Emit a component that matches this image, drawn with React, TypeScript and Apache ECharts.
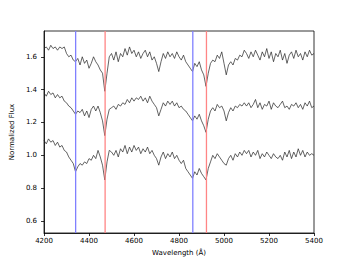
import React, { useEffect, useRef } from "react";
import * as echarts from "echarts";

const WAVE_START = 4200;
const WAVE_STEP = 10;

const FLUX_TOP = [
  1.65, 1.66, 1.64, 1.67, 1.65, 1.66, 1.64, 1.66, 1.65, 1.66,
  1.62, 1.60, 1.61, 1.58, 1.57, 1.59, 1.55, 1.60, 1.56, 1.58,
  1.53, 1.56, 1.60, 1.57, 1.55, 1.52, 1.50, 1.39, 1.50, 1.60,
  1.62, 1.58, 1.63, 1.57, 1.62, 1.60, 1.65, 1.61, 1.66, 1.62,
  1.64, 1.60, 1.63, 1.59, 1.62, 1.64, 1.60, 1.63, 1.58, 1.60,
  1.56, 1.51, 1.57, 1.62, 1.59, 1.63, 1.60, 1.62, 1.59, 1.63,
  1.60, 1.58, 1.61, 1.57, 1.55, 1.53, 1.51, 1.56, 1.54, 1.57,
  1.52, 1.49, 1.42, 1.50, 1.56, 1.58, 1.57, 1.61, 1.59, 1.63,
  1.56, 1.49, 1.55, 1.57, 1.55, 1.59, 1.58, 1.61, 1.60, 1.64,
  1.62, 1.59, 1.63, 1.60, 1.64, 1.61, 1.58, 1.63, 1.60, 1.65,
  1.59, 1.63, 1.57, 1.62, 1.60, 1.64, 1.58, 1.62, 1.56, 1.61,
  1.63, 1.59, 1.64, 1.60, 1.62, 1.58, 1.63, 1.60, 1.64, 1.61,
  1.62,
];

const FLUX_MID = [
  1.38, 1.36, 1.39, 1.37, 1.38, 1.35, 1.37, 1.35, 1.36, 1.33,
  1.32, 1.30, 1.29, 1.27, 1.25, 1.27, 1.26, 1.28, 1.24, 1.27,
  1.23, 1.28, 1.30, 1.27, 1.30, 1.26, 1.21, 1.12, 1.22, 1.28,
  1.29, 1.30, 1.28, 1.31, 1.30, 1.32, 1.31, 1.34, 1.32, 1.35,
  1.33, 1.35, 1.34, 1.36, 1.33, 1.35, 1.32, 1.36, 1.33, 1.31,
  1.29, 1.24, 1.28, 1.32, 1.30, 1.33, 1.31, 1.33, 1.30, 1.32,
  1.29, 1.30, 1.28, 1.27, 1.25, 1.23, 1.21, 1.24, 1.22, 1.25,
  1.21, 1.18, 1.14, 1.22, 1.27, 1.29, 1.27, 1.31, 1.29, 1.30,
  1.27, 1.21, 1.26, 1.29, 1.27, 1.30, 1.29, 1.31, 1.30, 1.32,
  1.30, 1.32, 1.29, 1.31, 1.34, 1.29, 1.32, 1.28, 1.31, 1.30,
  1.33, 1.28, 1.32, 1.30, 1.29, 1.31, 1.33, 1.29, 1.30, 1.28,
  1.31, 1.30, 1.32, 1.29, 1.31, 1.28, 1.32, 1.30, 1.33, 1.29,
  1.30,
];

const FLUX_BOT = [
  1.09, 1.07, 1.10, 1.08, 1.09, 1.06, 1.08, 1.05, 1.06, 1.03,
  1.02, 0.99, 0.97, 0.95, 0.90, 0.93, 0.95, 0.94, 0.96, 0.95,
  0.98, 0.97, 1.00, 0.98, 1.03, 0.99, 0.94, 0.85, 0.96, 1.03,
  1.02, 1.00, 1.03, 0.99, 1.04, 1.02, 1.06, 1.01, 1.05, 1.02,
  1.06, 1.03, 1.05, 1.01, 1.04, 1.02, 1.05, 1.01, 1.03, 1.00,
  0.98, 0.94, 0.99, 1.02, 0.98, 1.01, 0.99, 1.02, 0.98, 1.00,
  0.97, 0.95, 0.97, 0.92, 0.90, 0.88, 0.86, 0.90, 0.88, 0.92,
  0.89, 0.87, 0.85, 0.92, 0.96, 1.00, 0.98, 1.01, 0.99, 0.97,
  0.95, 0.94, 0.98, 1.00, 0.97, 1.01, 0.99, 1.02, 1.00, 1.03,
  1.01, 1.03, 0.99, 1.02, 1.00, 1.03, 0.98, 1.01, 0.99, 1.02,
  1.00, 0.98, 1.01, 0.99, 0.98, 1.00, 0.97, 1.02, 0.99, 1.03,
  0.98, 1.02, 0.99, 1.04, 1.00, 1.03, 0.99, 1.02, 1.00, 1.01,
  1.00,
];

const SPECTRA = [FLUX_TOP, FLUX_MID, FLUX_BOT];

const LINE_WAVES = [4340.5, 4471.5, 4861.3, 4922.0];
const LINE_COLORS = ["#8080ff", "#ff8585", "#8080ff", "#ff8585"];

const X_MIN = 4200;
const X_MAX = 5400;
const Y_MIN = 0.527;
const Y_MAX = 1.757;
const Y_TICKS = [0.6, 0.8, 1.0, 1.2, 1.4, 1.6];

const FONT = "DejaVu Sans";

export default function App() {
  const ref = useRef<HTMLDivElement>(null);

  useEffect(() => {
    if (!ref.current) return;
    const chart = echarts.init(ref.current, null, { renderer: "svg" });

    const spectrumSeries = SPECTRA.map((flux) => ({
      type: "line",
      data: flux.map((f, i) => [WAVE_START + i * WAVE_STEP, f]),
      showSymbol: false,
      symbol: "none",
      lineStyle: { color: "#222", width: 0.7 },
      z: 2,
      silent: true,
    }));

    const lineSeries = LINE_WAVES.map((w, i) => ({
      type: "line",
      data: [
        [w, Y_MIN],
        [w, Y_MAX],
      ],
      showSymbol: false,
      symbol: "none",
      lineStyle: { color: LINE_COLORS[i], width: 1.3 },
      z: 3,
      silent: true,
    }));

    chart.setOption({
      animation: false,
      grid: {
        left: 43,
        right: 35,
        top: 31,
        bottom: 29,
        show: true,
        borderColor: "#000",
        borderWidth: 0.8,
        backgroundColor: "transparent",
      },
      xAxis: {
        type: "value",
        min: X_MIN,
        max: X_MAX,
        interval: 200,
        name: "Wavelength (Å)",
        nameLocation: "middle",
        nameGap: 16,
        nameTextStyle: { fontFamily: FONT, fontSize: 7, color: "#000" },
        axisLine: { show: true, lineStyle: { color: "#000", width: 0.8 } },
        axisTick: { show: true, inside: false, length: 3, lineStyle: { color: "#000", width: 0.8 } },
        axisLabel: {
          fontFamily: FONT,
          fontSize: 7,
          color: "#000",
          margin: 4,
          formatter: (v: number) => String(v),
        },
        splitLine: { show: false },
      },
      yAxis: {
        type: "value",
        min: Y_MIN,
        max: Y_MAX,
        name: "Normalized Flux",
        nameLocation: "middle",
        nameGap: 19,
        nameTextStyle: { fontFamily: FONT, fontSize: 7, color: "#000" },
        axisLine: { show: true, lineStyle: { color: "#000", width: 0.8 } },
        axisTick: {
          show: true,
          inside: false,
          length: 3,
          customValues: Y_TICKS,
          lineStyle: { color: "#000", width: 0.8 },
        },
        axisLabel: {
          fontFamily: FONT,
          fontSize: 7,
          color: "#000",
          margin: 7,
          customValues: Y_TICKS,
          formatter: (v: number) => v.toFixed(1),
        },
        splitLine: { show: false },
      },
      series: [...spectrumSeries, ...lineSeries],
    });

    return () => {
      chart.dispose();
    };
  }, []);

  return (
    <div
      ref={ref}
      style={{ position: "fixed", left: 0, top: 0, width: 349, height: 262, background: "#fff" }}
    />
  );
}
